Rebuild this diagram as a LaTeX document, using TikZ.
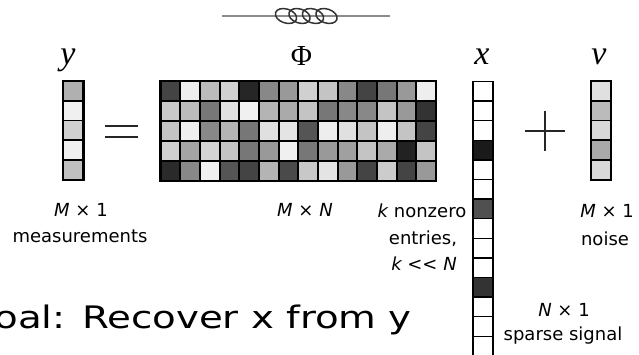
\documentclass[tikz,border=0pt]{standalone}
\usepackage{fontspec}
\usepackage{graphicx}
\newfontfamily\comic{DejaVu Sans}
\newfontfamily\serifm{Liberation Serif}
\tikzset{
  cellbox/.style={draw=black, line width=1.8pt},
  mcell/.style={draw=black, line width=2pt},
  mathlab/.style={anchor=base, inner sep=0pt, font=\serifm\itshape\fontsize{34}{34}\selectfont},
  lab/.style={anchor=base, inner sep=0pt, font=\comic\fontsize{18}{20}\selectfont},
  sym/.style={line width=2pt, black!85},
}
\begin{document}
\begin{tikzpicture}[x=1pt,y=-1pt]
\useasboundingbox (0,0) rectangle (639,355);
\clip (0,0) rectangle (639,355);

% ornament
\draw[black!45, line width=1.3pt] (222,16) -- (390,16);
\foreach \cx in {286,299.5,313,326.5}
  \draw[black!80, line width=1.5pt] (\cx,16) ellipse [x radius=11, y radius=7, rotate=-18];

% y vector
\foreach \g [count=\r from 0] in {176,240,208,240,192} {
  \definecolor{cc}{RGB}{\g,\g,\g}
  \filldraw[cellbox, fill=cc] (62.7,81+\r*19.8) rectangle ++(20.6,19.8);
}
\draw[line width=2.4pt] (62.7,81) rectangle (83.3,180);

% equals
\draw[sym] (105,125.7) -- (138,125.7);
\draw[sym] (105,136.7) -- (138,136.7);

% matrix Phi
\foreach \row [count=\r from 0] in {
  {68,238,187,208,38,136,153,208,196,136,68,119,153,238},
  {200,187,119,224,240,180,170,196,119,136,136,196,153,51},
  {196,238,136,180,119,224,228,85,238,224,196,238,196,68},
  {208,164,212,196,119,153,240,119,153,160,196,170,34,196},
  {42,136,240,85,68,180,74,200,228,153,68,204,68,153}} {
  \foreach \g [count=\c from 0] in \row {
    \definecolor{cc}{RGB}{\g,\g,\g}
    \filldraw[mcell, fill=cc] (160.7+\c*19.66,81+\r*20) rectangle ++(19.66,20);
  }
}
\draw[line width=2.8pt] (160.7,81) rectangle (436,181);

% x vector
\foreach \g [count=\r from 0] in {255,255,255,26,255,255,80,255,255,255,51,255,255,255} {
  \definecolor{cc}{RGB}{\g,\g,\g}
  \filldraw[cellbox, line width=1.5pt, fill=cc] (473.3,81.5+\r*19.6) rectangle ++(20,19.6);
}
\draw[line width=1.8pt] (473.3,81.5) rectangle (493.3,370);

% plus
\draw[sym] (525,130.7) -- (565,130.7);
\draw[sym] (545,111) -- (545,150.7);

% v vector
\foreach \g [count=\r from 0] in {224,187,216,170,216} {
  \definecolor{cc}{RGB}{\g,\g,\g}
  \filldraw[cellbox, fill=cc] (590.7,81+\r*19.8) rectangle ++(20,19.8);
}
\draw[line width=2.4pt] (590.7,81) rectangle (610.7,180);

% math labels
\node[mathlab] (ylab) at (68,64.5) {y};
\node[anchor=base, inner sep=0pt, font=\serifm\fontsize{29}{29}\selectfont] (philab) at (301.5,65.7) {Φ};
\node[mathlab] (xlab) at (482,65) {x};
\node[mathlab] (vlab) at (599,65) {v};

% text labels
\node[lab] (ydim) at (81,217) {{\itshape M} × 1};
\node[lab] (ymeas) at (80,243) {measurements};
\node[lab] (phidim) at (305,217) {{\itshape M} × {\itshape N}};
\node[lab] (k1) at (422,218) {{\itshape k} nonzero};
\node[lab] (k2) at (423,244.5) {entries,};
\node[lab] (k3) at (424,270) {{\itshape k} << {\itshape N}};
\node[lab] (vdim) at (607,218) {{\itshape M} × 1};
\node[lab] (vnoise) at (605,245) {noise};
\node[lab] (xdim) at (564,316.5) {{\itshape N} × 1};
\node[lab] (xsig) at (563,340) {sparse signal};

% goal
\node[anchor=base east, inner sep=0pt, font=\comic\fontsize{31}{31}\selectfont] (goal) at (412,328) {\scalebox{1.25}[1]{Goal: Recover x from y}};
\end{tikzpicture}
\end{document}
